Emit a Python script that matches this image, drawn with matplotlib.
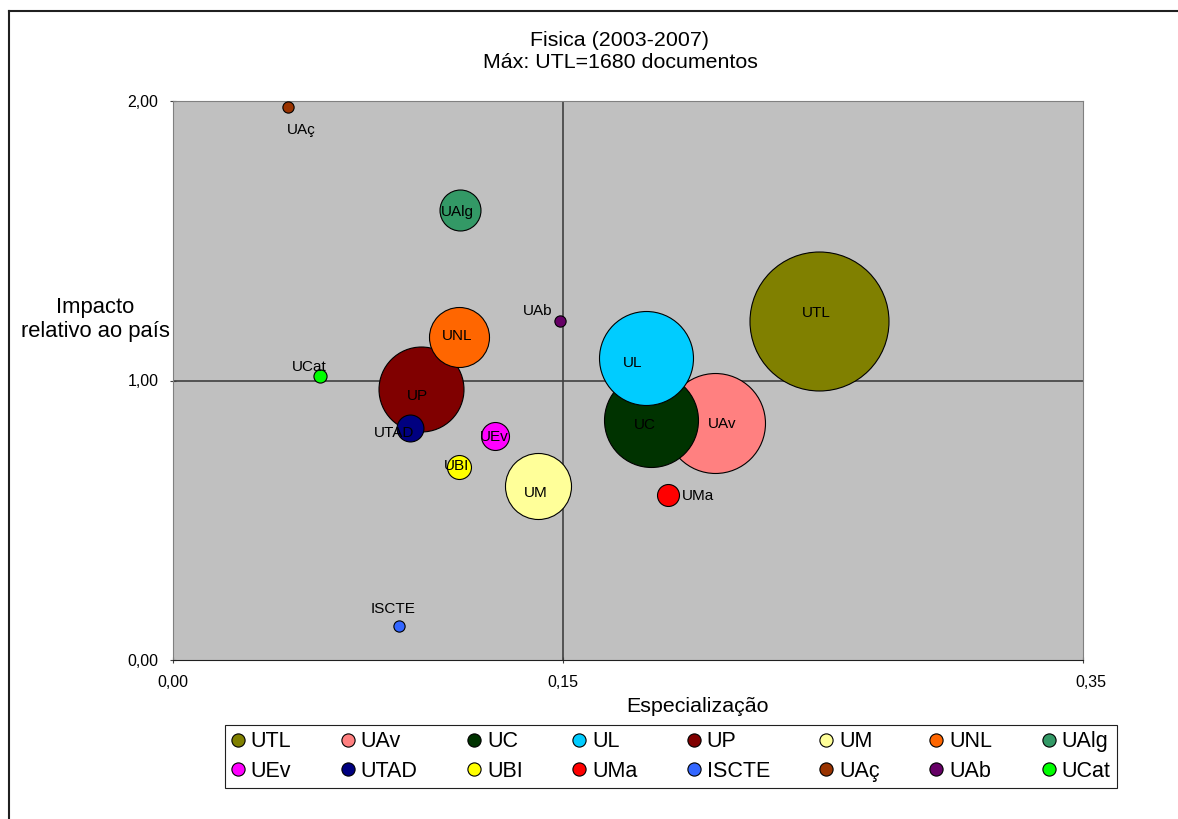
import matplotlib
matplotlib.use("Agg")
import matplotlib.pyplot as plt
import matplotlib.transforms as mtransforms
from matplotlib.lines import Line2D

plt.rcParams["font.family"] = ["Liberation Sans", "DejaVu Sans"]

# data
names = ["UTL", "UAv", "UC", "UL", "UP", "UM", "UNL", "UAlg",
         "UEv", "UTAD", "UBI", "UMa", "ISCTE", "UAç", "UAb", "UCat"]
especializacao = [0.2485, 0.2085, 0.1838, 0.1819, 0.0952, 0.1402, 0.1100, 0.1104,
                  0.1238, 0.0913, 0.1100, 0.1904, 0.0868, 0.0442, 0.1488, 0.0565]
impacto = [1.213, 0.848, 0.859, 1.082, 0.971, 0.623, 1.157, 1.610,
           0.801, 0.830, 0.690, 0.589, 0.122, 1.977, 1.214, 1.017]
documentos = [1680, 869, 768, 768, 628, 379, 313, 146,
              68, 63, 50, 42, 11, 11, 11, 15]
colors = ["#808000", "#FF8080", "#003300", "#00CCFF", "#800000", "#FFFF99", "#FF6600", "#339966",
          "#FF00FF", "#000080", "#FFFF00", "#FF0000", "#3366FF", "#993300", "#660066", "#00FF00"]

# label offsets (pixels, right / down) relative to bubble centre
label_off = {"UTL": (-3, -8), "UAv": (7, 1), "UC": (-6, 5), "UL": (-13, 5),
             "UP": (-3, 7), "UM": (-2, 7), "UNL": (-2, -1), "UAlg": (-3, 2),
             "UEv": (-1, 1), "UTAD": (-16, 5), "UBI": (-2, -1), "UMa": (30, 1),
             "ISCTE": (-6, -17), "UAç": (13, 23), "UAb": (-22, -10), "UCat": (-11, -9)}

W, H = 1178, 819
fig = plt.figure(figsize=(W / 100, H / 100), dpi=100)
ax = fig.add_axes([173 / W, (H - 660) / H, (1083 - 173) / W, (660 - 101) / H])
ax.set_facecolor("#C0C0C0")

# bubble area proportional to documents, UTL radius ~69.5 px
max_s = (2 * 69.5 * 0.72) ** 2
for i, n in enumerate(names):
    s = documentos[i] / max(documentos) * max_s
    ax.scatter(especializacao[i], impacto[i], s=s, color=colors[i],
               edgecolor="black", linewidth=0.8, zorder=3 + i)
    dx, dy = label_off[n]
    ax.annotate(n, (especializacao[i], impacto[i]), xytext=(dx * 0.72, -dy * 0.72),
                textcoords="offset points", ha="center", va="center",
                fontsize=11, zorder=30)

ax.axhline(1.0, color="#404040", lw=1.2, zorder=1)
ax.axvline(0.15, color="#404040", lw=1.2, zorder=1)

ax.set_xlim(0, 0.35)
ax.set_ylim(0, 2.0)
ax.set_xticks([0, 0.15, 0.35])
ax.set_xticklabels(["0,00", "0,15", "0,35"])
ax.set_yticks([0, 1, 2])
ax.set_yticklabels(["0,00", "1,00", "2,00"])
ax.tick_params(labelsize=11.5, direction="inout", length=5, color="#404040")
ax.tick_params(axis="x", pad=8)
ax.tick_params(axis="y", pad=8)
for side in ["top", "right"]:
    ax.spines[side].set_color("#808080")
ax.spines["left"].set_color("#808080")
ax.spines["bottom"].set_color("#202020")

# the last x label sits a little right of its tick in the reference
last = ax.get_xticklabels()[-1]
last.set_transform(last.get_transform() + mtransforms.ScaledTranslation(8 / 100, 0, fig.dpi_scale_trans))

fig.text(620 / W, 1 - 41 / H, "Fisica (2003-2007)", ha="center", va="center", fontsize=15.4)
fig.text(620 / W, 1 - 62 / H, "Máx: UTL=1680 documentos", ha="center", va="center", fontsize=15.4)
fig.text(95 / W, 1 - 308 / H, "Impacto", ha="center", va="center", fontsize=15.8)
fig.text(95 / W, 1 - 332 / H, "relativo ao país", ha="center", va="center", fontsize=15.8)
fig.text(698 / W, 1 - 706 / H, "Especialização", ha="center", va="center", fontsize=15.4)

# legend filled row by row (matplotlib fills by column, so interleave)
handles = [Line2D([], [], ls="none", marker="o", markersize=9.5, markerfacecolor=c,
                  markeredgecolor="black", markeredgewidth=0.8) for c in colors]
order = [j for k in range(8) for j in (k, k + 8)]
leg = fig.legend([handles[j] for j in order], [names[j] for j in order], ncol=8, loc="upper left",
                 bbox_to_anchor=(225 / W, 1 - 788 / H, (1117 - 225) / W, (788 - 725) / H),
                 mode="expand", fontsize=15.5, frameon=True, fancybox=False,
                 edgecolor="#202020", framealpha=1, borderpad=0.3, labelspacing=0.38,
                 handlelength=0.6, handletextpad=0.3, borderaxespad=0)
leg.get_frame().set_linewidth(0.8)

# outer border (top and left edges only visible)
fig.add_artist(Line2D([9 / W, 9 / W], [0, 1 - 11 / H], transform=fig.transFigure,
                      color="#202020", lw=1.5))
fig.add_artist(Line2D([9 / W, 1], [1 - 11 / H, 1 - 11 / H], transform=fig.transFigure,
                      color="#202020", lw=1.5))

fig.savefig("out.png", dpi=100)
